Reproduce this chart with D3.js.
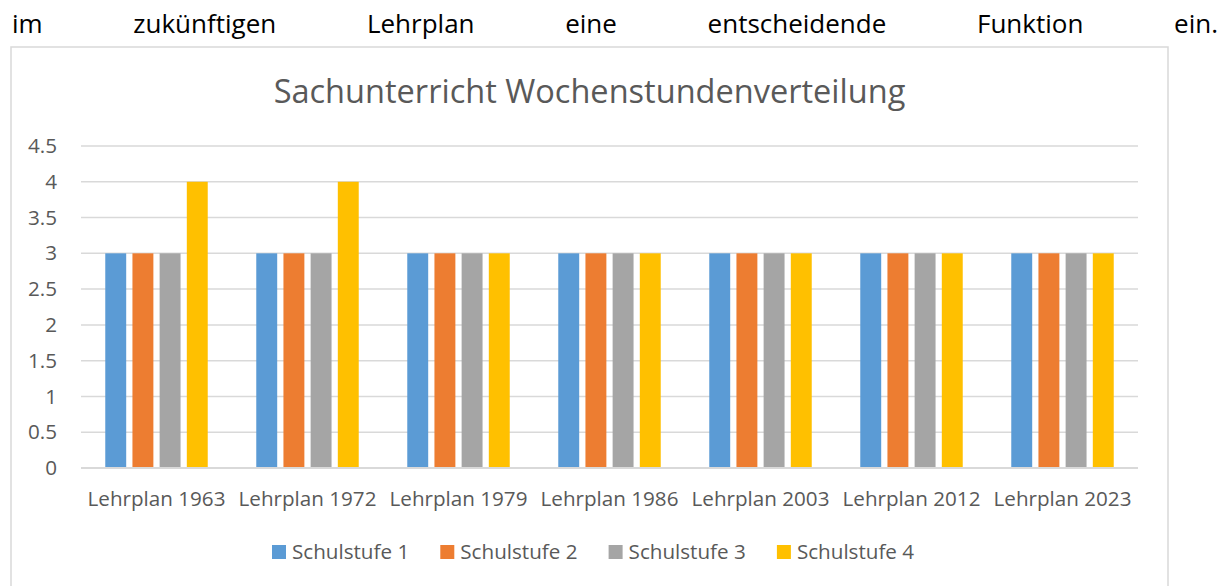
<!DOCTYPE html>
<html>
<head>
<meta charset="utf-8">
<script src="https://cdn.jsdelivr.net/npm/d3@7"></script>
<style>
    body { margin: 0; background: #fff; }
    .intro {
        position: absolute;
        left: 12px;
        top: 11px;
        width: 1206px;
        font-family: 'Open Sans', sans-serif;
        font-size: 26px;
        line-height: 24px;
        color: #000;
        text-align: justify;
        text-align-last: justify;
        white-space: nowrap;
    }
    .chart { position: absolute; left: 0; top: 0; }
</style>
</head>
<body>
<div class="intro">im zukünftigen Lehrplan eine entscheidende Funktion ein.</div>
<svg class="chart" width="1229" height="586"></svg>
<script>
// chart data
const categories = ['Lehrplan 1963', 'Lehrplan 1972', 'Lehrplan 1979', 'Lehrplan 1986', 'Lehrplan 2003', 'Lehrplan 2012', 'Lehrplan 2023'];
const seriesNames = ['Schulstufe 1', 'Schulstufe 2', 'Schulstufe 3', 'Schulstufe 4'];
const stufe1 = [3, 3, 3, 3, 3, 3, 3];
const stufe2 = [3, 3, 3, 3, 3, 3, 3];
const stufe3 = [3, 3, 3, 3, 3, 3, 3];
const stufe4 = [4, 4, 3, 3, 3, 3, 3];
const yTicks = [0, 0.5, 1, 1.5, 2, 2.5, 3, 3.5, 4, 4.5];
const colors = ['#5b9bd5', '#ed7d31', '#a5a5a5', '#ffc000'];

const seriesValues = [stufe1, stufe2, stufe3, stufe4];
const rows = [];
categories.forEach((cat, i) => {
    seriesNames.forEach((s, j) => rows.push({ cat: cat, series: s, value: seriesValues[j][i] }));
});

const svg = d3.select('.chart');
const textColor = '#595959';
const font = "'Open Sans', sans-serif";

// fit a text element to a target width
function fitWidth(sel, target) {
    const w = sel.node().getComputedTextLength();
    const fs = parseFloat(sel.attr('font-size'));
    const size = fs * target / w;
    sel.attr('font-size', size);
    return size;
}

// chart frame
svg.append('rect')
    .attr('x', 11)
    .attr('y', 47)
    .attr('width', 1157)
    .attr('height', 600)
    .attr('fill', '#fff')
    .attr('stroke', '#d9d9d9')
    .attr('stroke-width', 1.5);

// title
const title = svg.append('text')
    .attr('x', 589.5)
    .attr('y', 103)
    .attr('text-anchor', 'middle')
    .attr('font-family', font)
    .attr('font-size', 30)
    .attr('fill', textColor)
    .text('Sachunterricht Wochenstundenverteilung');
fitWidth(title, 632);

// scales
const x0 = d3.scaleBand()
    .domain(categories)
    .range([81, 1138])
    .paddingInner(0.28)
    .paddingOuter(0.14);
const x1 = d3.scaleBand()
    .domain(seriesNames)
    .range([0, x0.bandwidth()])
    .paddingInner(0.23)
    .paddingOuter(0.115);
const yScale = d3.scaleLinear()
    .domain([0, 4.5])
    .range([468, 146]);
const color = d3.scaleOrdinal().domain(seriesNames).range(colors);

// gridlines
svg.append('g')
    .selectAll('line')
    .data(yTicks.filter((d) => d > 0))
    .enter()
    .append('line')
    .attr('x1', 81)
    .attr('x2', 1138)
    .attr('y1', (d) => yScale(d))
    .attr('y2', (d) => yScale(d))
    .attr('stroke', '#d9d9d9')
    .attr('stroke-width', 1.5);

// y axis labels
const yAxis = d3.axisLeft(yScale)
    .tickValues(yTicks)
    .tickFormat((d) => String(d))
    .tickSize(0)
    .tickPadding(24);
const yg = svg.append('g')
    .attr('transform', 'translate(81,0)')
    .call(yAxis);
yg.select('.domain').remove();
yg.selectAll('text')
    .attr('font-family', font)
    .attr('font-size', 18)
    .attr('fill', textColor);

// bars
svg.append('g')
    .selectAll('rect')
    .data(rows)
    .enter()
    .append('rect')
    .attr('x', (d) => x0(d.cat) + x1(d.series))
    .attr('y', (d) => yScale(d.value))
    .attr('width', x1.bandwidth())
    .attr('height', (d) => yScale(0) - yScale(d.value))
    .attr('fill', (d) => color(d.series));

// x axis
const xAxis = d3.axisBottom(x0).tickSize(0);
const xg = svg.append('g')
    .attr('transform', 'translate(0,468)')
    .call(xAxis);
xg.select('.domain').remove();
xg.append('line')
    .attr('x1', 81)
    .attr('x2', 1138)
    .attr('stroke', '#d9d9d9')
    .attr('stroke-width', 2);
const xLabels = xg.selectAll('text')
    .attr('font-family', font)
    .attr('font-size', 18)
    .attr('fill', textColor)
    .attr('y', 38)
    .attr('dy', null);
const labelSize = fitWidth(d3.select(xLabels.nodes()[0]), 138);
xLabels.attr('font-size', labelSize);
yg.selectAll('text').attr('font-size', labelSize);

// legend
const legendX = d3.scaleBand()
    .domain(seriesNames)
    .range([272, 272 + 4 * 168.3]);
const legend = svg.append('g')
    .selectAll('g')
    .data(seriesNames)
    .enter()
    .append('g')
    .attr('transform', (d) => `translate(${legendX(d)},545)`);
legend.append('rect')
    .attr('width', 14)
    .attr('height', 14)
    .attr('fill', (d) => color(d));
legend.append('text')
    .attr('x', 20)
    .attr('y', 14)
    .attr('font-family', font)
    .attr('font-size', labelSize)
    .attr('fill', textColor)
    .text((d) => d);
</script>
</body>
</html>
